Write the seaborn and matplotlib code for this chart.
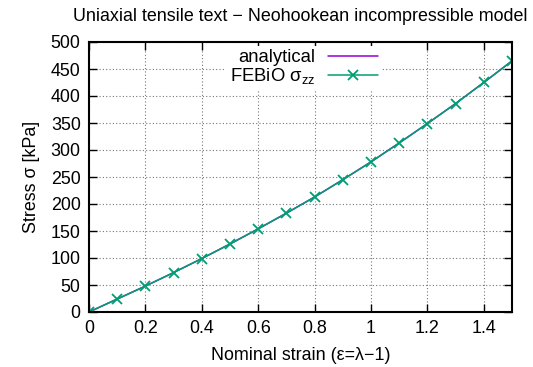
import numpy as np
import pandas as pd
import matplotlib
matplotlib.use('Agg')
import matplotlib.pyplot as plt
import seaborn as sns

# values
strain = [0.0, 0.1, 0.2, 0.3, 0.4, 0.5, 0.6, 0.7, 0.8, 0.9, 1.0, 1.1, 1.2, 1.3, 1.4, 1.5]
stress_analytical = [0, 24, 48, 73, 99, 126, 154, 183, 213, 245, 278, 313, 349, 386, 425, 465]
stress_febio = [0, 24, 48, 73, 99, 126, 154, 183, 213, 245, 278, 313, 349, 386, 425, 465]

sns.set_style('ticks')
plt.rcParams['font.family'] = ['Liberation Sans', 'DejaVu Sans']
plt.rcParams['mathtext.fontset'] = 'custom'
plt.rcParams['mathtext.rm'] = 'Liberation Sans'
plt.rcParams['mathtext.it'] = 'Liberation Sans'
plt.rcParams['text.color'] = 'black'
plt.rcParams['axes.labelcolor'] = 'black'

FS = 12.9

df_a = pd.DataFrame({'strain': strain, 'stress': stress_analytical})
df_f = pd.DataFrame({'strain': strain, 'stress': stress_febio})

fig = plt.figure(figsize=(5.33, 3.67), dpi=100)
ax = fig.add_axes([89 / 533, 1 - 312 / 367, (512 - 89) / 533, (312 - 42) / 367])

sns.lineplot(data=df_a, x='strain', y='stress', ax=ax, color='#9400d3', lw=1.1,
             label='analytical')
sns.lineplot(data=df_f, x='strain', y='stress', ax=ax, color='#009e73', lw=1.1,
             marker='x', markersize=7, markeredgewidth=1.3, markeredgecolor='#009e73',
             label=r'FEBiO $\sigma_{\mathrm{zz}}$')

ax.set_xlim(0, 1.5)
ax.set_ylim(0, 500)
ax.set_xticks([0, 0.2, 0.4, 0.6, 0.8, 1.0, 1.2, 1.4])
ax.set_xticklabels(['0', '0.2', '0.4', '0.6', '0.8', '1', '1.2', '1.4'])
ax.set_yticks(np.arange(0, 501, 50))
ax.tick_params(direction='in', top=True, right=True, length=6, width=1,
               labelsize=FS, pad=6, colors='black')
for s in ax.spines.values():
    s.set_linewidth(1.5)
    s.set_color('black')
ax.grid(True, linestyle=(0, (1, 2)), color='#777777', lw=0.8)

ax.set_xlabel('Nominal strain (ε=λ−1)', fontsize=FS, labelpad=7)
ax.set_ylabel('Stress σ [kPa]', fontsize=FS, labelpad=8)
ax.set_title('Uniaxial tensile text − Neohookean incompressible model', fontsize=FS,
             pad=15, color='black')

leg = ax.legend(loc='upper right', bbox_to_anchor=(0.70, 1.0), frameon=True, markerfirst=False,
                fontsize=FS + 0.4, handlelength=2.7, borderpad=0.2, labelspacing=0.0,
                handletextpad=0.7, fancybox=False, edgecolor='white', framealpha=1,
                borderaxespad=0.2)
leg.get_frame().set_linewidth(0)
for t in leg.get_texts():
    t.set_ha('right')
    t.set_color('black')

fig.savefig('out.png', dpi=100)
